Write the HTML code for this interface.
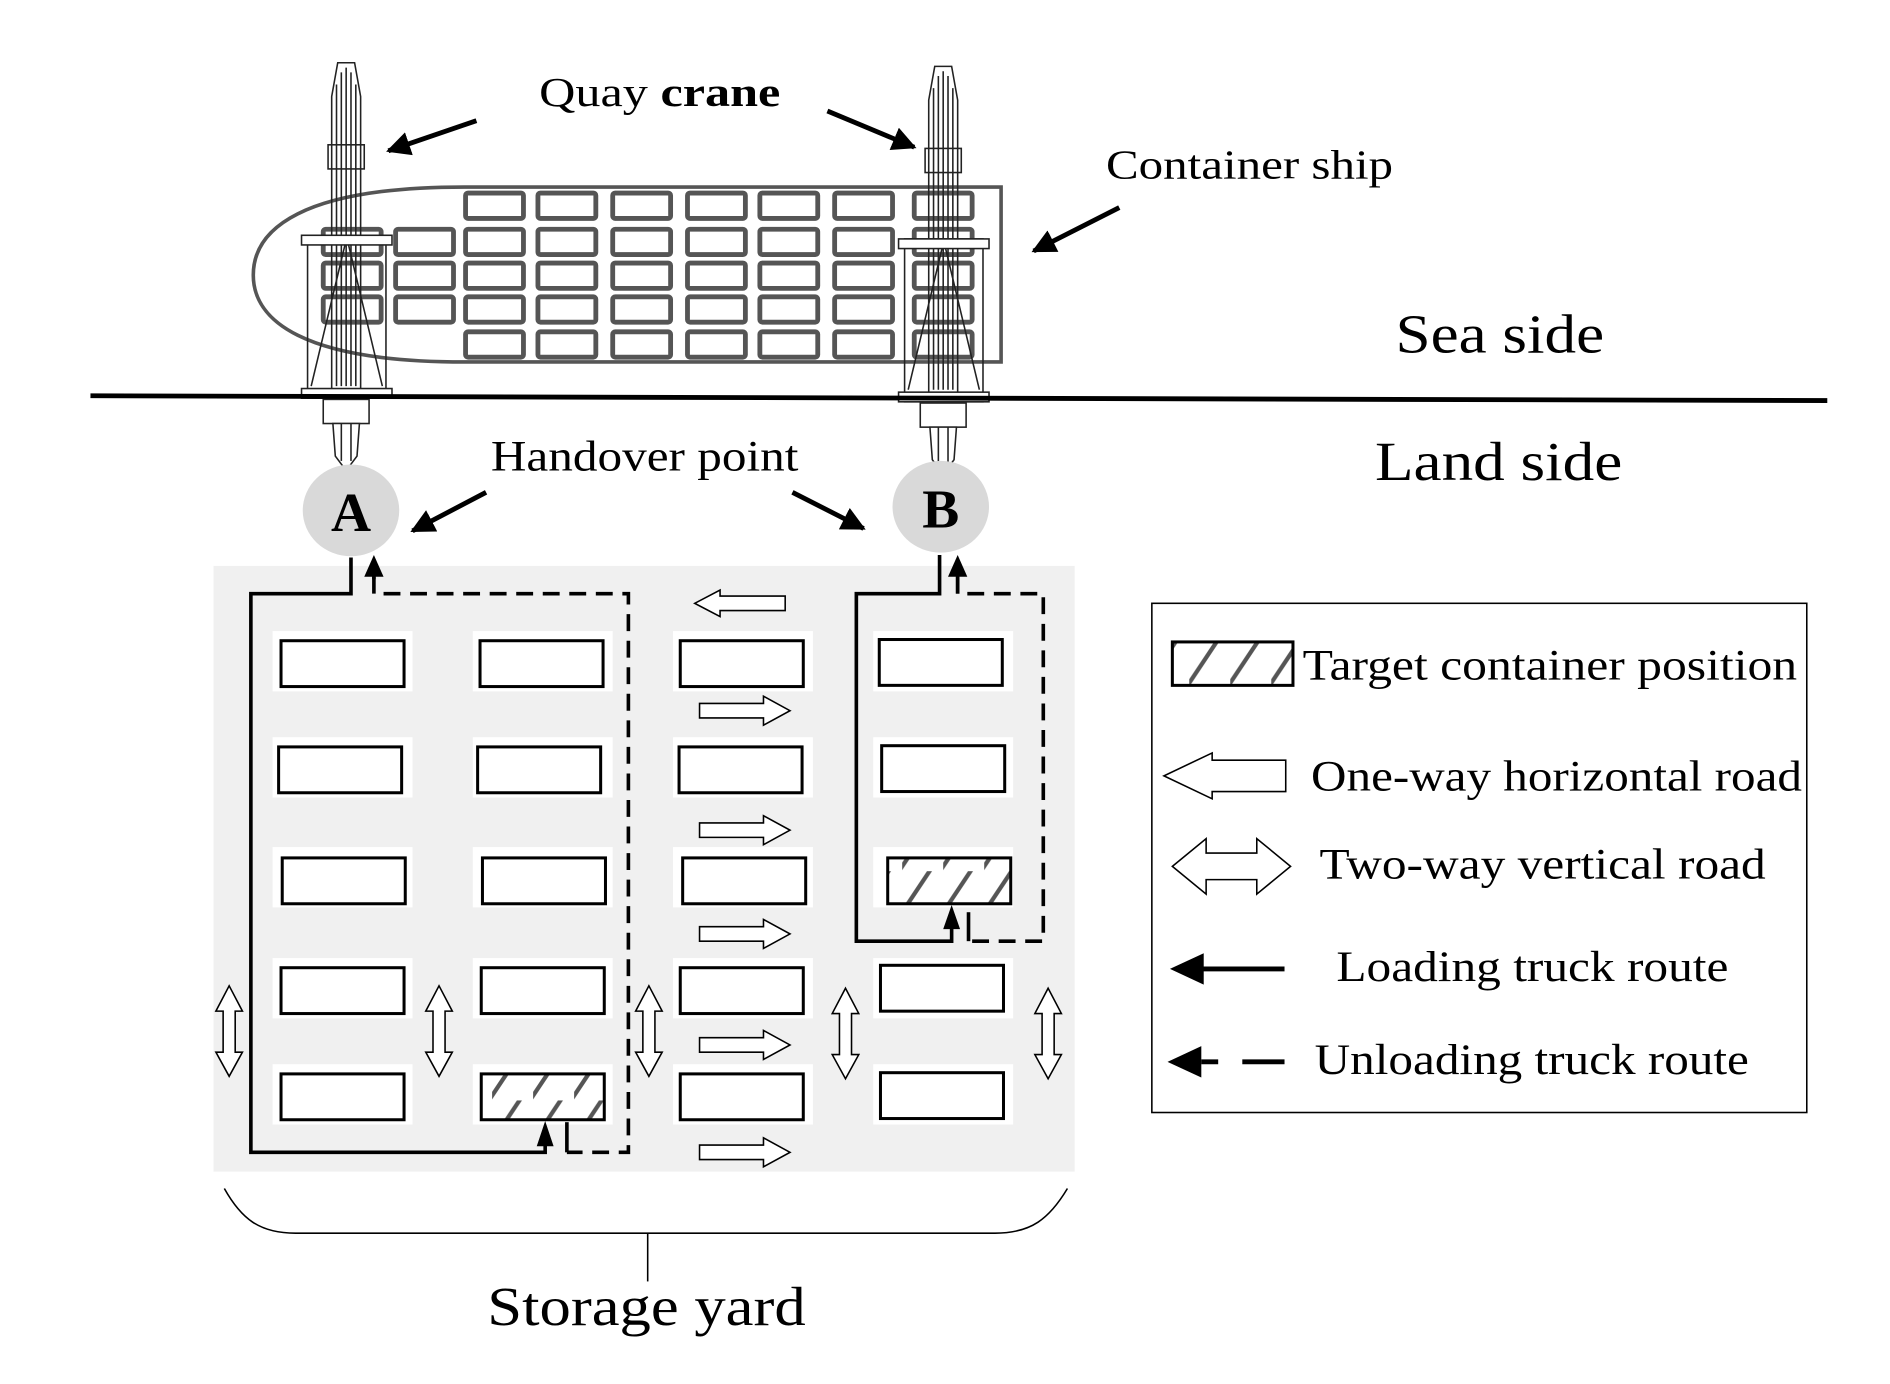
<!DOCTYPE html>
<html><head><meta charset="utf-8"><style>html,body{margin:0;padding:0;background:#fff}svg{display:block}</style></head>
<body>
<svg width="1890" height="1384" viewBox="0 0 1567 1147" preserveAspectRatio="none" xmlns="http://www.w3.org/2000/svg" font-family="'Liberation Serif', serif">
<defs>
<marker id="ah" viewBox="0 0 10 10" refX="9" refY="5" markerWidth="5" markerHeight="5" orient="auto"><path d="M0,0 L10,5 L0,10 z" fill="#000"/></marker>
<pattern id="hatch" width="34" height="38" patternUnits="userSpaceOnUse"><rect width="34" height="38" fill="#fff"/><path d="M-4,40 L24,-2" stroke="#555" stroke-width="3.5"/></pattern>
</defs>
<!-- ship -->
<path d="M385,155 L830,155 L830,300 L385,300 C250,300 210,265 210,228 C210,190 250,155 385,155 Z" fill="none" stroke="#555" stroke-width="3"/>
<g fill="none" stroke="#555" stroke-width="4">
<g id="row">
<rect x="386" y="160" width="48" height="21" rx="2"/><rect x="446" y="160" width="48" height="21" rx="2"/><rect x="508" y="160" width="48" height="21" rx="2"/><rect x="570" y="160" width="48" height="21" rx="2"/><rect x="630" y="160" width="48" height="21" rx="2"/><rect x="692" y="160" width="48" height="21" rx="2"/><rect x="758" y="160" width="48" height="21" rx="2"/>
</g>
<use href="#row" y="30"/><use href="#row" y="58"/><use href="#row" y="86"/><use href="#row" y="115"/>
<rect x="328" y="190" width="48" height="21" rx="2"/><rect x="328" y="218" width="48" height="21" rx="2"/><rect x="328" y="246" width="48" height="21" rx="2"/>
<rect x="268" y="190" width="48" height="21" rx="2"/><rect x="268" y="218" width="48" height="21" rx="2"/><rect x="268" y="246" width="48" height="21" rx="2"/>
</g>
<!-- cranes -->
<g id="crane" fill="#fff" stroke="#222" stroke-width="1.3">
<path d="M280,52 L294,52 L299,80 L299,330 L275,330 L275,80 Z" fill="none"/>
<line x1="279" y1="70" x2="279" y2="320"/><line x1="283" y1="60" x2="283" y2="320"/><line x1="287" y1="56" x2="287" y2="320"/><line x1="291" y1="60" x2="291" y2="320"/><line x1="295" y1="70" x2="295" y2="320"/>
<rect x="272" y="120" width="30" height="20" fill="none"/>
<rect x="255" y="195" width="65" height="135" fill="none"/>
<rect x="250" y="195" width="75" height="8" fill="#fff"/>
<line x1="258" y1="320" x2="286" y2="203"/><line x1="317" y1="320" x2="289" y2="203"/>
<rect x="250" y="322" width="75" height="8"/>
<rect x="268" y="331" width="38" height="20"/>
<path d="M276,351 L298,351 L296,378 L287,390 L278,378 Z"/>
<line x1="283" y1="351" x2="283" y2="382"/><line x1="291" y1="351" x2="291" y2="382"/>
</g>
<use href="#crane" x="495" y="3"/>
<!-- sea line -->
<path d="M75,328 L1515,332" stroke="#000" stroke-width="4"/>
<!-- texts -->
<text x="447" y="88" font-size="34" textLength="200" lengthAdjust="spacingAndGlyphs">Quay <tspan font-weight="bold">crane</tspan></text>
<text x="917" y="148" font-size="34" textLength="238" lengthAdjust="spacingAndGlyphs">Container ship</text>
<text x="1157" y="292" font-size="46" textLength="173" lengthAdjust="spacingAndGlyphs">Sea side</text>
<text x="1140" y="398" font-size="46" textLength="205" lengthAdjust="spacingAndGlyphs">Land side</text>
<text x="407" y="390" font-size="36" textLength="255" lengthAdjust="spacingAndGlyphs">Handover point</text>
<text x="404" y="1098" font-size="46" textLength="264" lengthAdjust="spacingAndGlyphs">Storage yard</text>
<!-- pointer arrows -->
<g stroke="#000" stroke-width="4" marker-end="url(#ah)">
<line x1="395" y1="100" x2="322" y2="125"/><line x1="686" y1="92" x2="758" y2="122"/>
<line x1="928" y1="172" x2="857" y2="208"/><line x1="403" y1="408" x2="342" y2="440"/><line x1="657" y1="408" x2="716" y2="438"/>
</g>
<!-- handover circles -->
<ellipse cx="291" cy="423" rx="40" ry="38" fill="#d9d9d9"/>
<ellipse cx="780" cy="420" rx="40" ry="38" fill="#d9d9d9"/>
<text x="291" y="440" font-size="46" font-weight="bold" text-anchor="middle">A</text>
<text x="780" y="437" font-size="46" font-weight="bold" text-anchor="middle">B</text>
<!-- yard -->
<rect x="177" y="469" width="714" height="502" fill="#f0f0f0"/>
<g fill="#fff">
<g id="bgc"><rect x="226" y="523" width="116" height="50"/><rect x="226" y="611" width="116" height="50"/><rect x="226" y="702" width="116" height="50"/><rect x="226" y="794" width="116" height="50"/><rect x="226" y="882" width="116" height="50"/></g>
<use href="#bgc" x="166"/><use href="#bgc" x="332"/><use href="#bgc" x="498"/>
</g>
<g fill="#fff" stroke="#000" stroke-width="2.5">
<rect x="233" y="531" width="102" height="38"/><rect x="398" y="531" width="102" height="38"/><rect x="564" y="531" width="102" height="38"/><rect x="729" y="530" width="102" height="38"/>
<rect x="231" y="619" width="102" height="38"/><rect x="396" y="619" width="102" height="38"/><rect x="563" y="619" width="102" height="38"/><rect x="731" y="618" width="102" height="38"/>
<rect x="234" y="711" width="102" height="38"/><rect x="400" y="711" width="102" height="38"/><rect x="566" y="711" width="102" height="38"/><rect x="736" y="711" width="102" height="38" fill="url(#hatch)"/>
<rect x="233" y="802" width="102" height="38"/><rect x="399" y="802" width="102" height="38"/><rect x="564" y="802" width="102" height="38"/><rect x="730" y="800" width="102" height="38"/>
<rect x="233" y="890" width="102" height="38"/><rect x="399" y="890" width="102" height="38" fill="url(#hatch)"/><rect x="564" y="890" width="102" height="38"/><rect x="730" y="889" width="102" height="38"/>
</g>
<!-- one-way arrows -->
<g fill="#fff" stroke="#000" stroke-width="1.3">
<path d="M651,494 L597,494 L597,489 L576,500 L597,511 L597,506 L651,506 Z"/>
<g id="ra"><path d="M580,583 L633,583 L633,577 L655,589 L633,601 L633,595 L580,595 Z"/></g>
<use href="#ra" y="99"/><use href="#ra" y="185"/><use href="#ra" y="277"/><use href="#ra" y="366"/>
<g id="va"><path d="M190,817 L201,838 L195,838 L195,872 L201,872 L190,892 L179,872 L185,872 L185,838 L179,838 Z"/></g>
<use href="#va" x="174"/><use href="#va" x="348"/><use href="#va" x="511" y="2"/><use href="#va" x="679" y="2"/>
</g>
<!-- routes -->
<g fill="none" stroke="#000" stroke-width="3">
<path d="M291,462 L291,492 L208,492 L208,955 L452,955 L452,938"/>
<path d="M779,460 L779,492 L710,492 L710,780 L789,780 L789,760"/>
</g>
<g fill="none" stroke="#000" stroke-width="3" stroke-dasharray="14,8">
<path d="M310,478 L310,492 L521,492 L521,955 L470,955"/>
<path d="M794,478 L794,492 L865,492 L865,780 L803,780"/>
</g>
<g stroke="#000" stroke-width="3"><line x1="470" y1="955" x2="470" y2="930"/><line x1="803" y1="780" x2="803" y2="756"/><line x1="310" y1="480" x2="310" y2="474"/><line x1="794" y1="492" x2="794" y2="474"/></g>
<g fill="#000">
<path d="M452,929 L445,950 L459,950 Z"/><path d="M789,750 L782,770 L796,770 Z"/>
<path d="M310,460 L302,478 L318,478 Z"/><path d="M794,460 L786,478 L802,478 Z"/>
</g>
<!-- brace -->
<path d="M186,985 C200,1010 215,1022 245,1022 L825,1022 C855,1022 870,1010 885,985" fill="none" stroke="#000" stroke-width="1.3"/>
<line x1="537" y1="1022" x2="537" y2="1062" stroke="#000" stroke-width="1.3"/>
<!-- legend -->
<rect x="955" y="500" width="543" height="422" fill="#fff" stroke="#000" stroke-width="1.3"/>
<rect x="972" y="532" width="100" height="36" fill="url(#hatch)" stroke="#000" stroke-width="2.5"/>
<text x="1080" y="563" font-size="36" textLength="410" lengthAdjust="spacingAndGlyphs">Target container position</text>
<path d="M1066,630 L1005,630 L1005,624 L965,643 L1005,662 L1005,656 L1066,656 Z" fill="#fff" stroke="#000" stroke-width="1.3"/>
<text x="1087" y="655" font-size="36" textLength="407" lengthAdjust="spacingAndGlyphs">One-way horizontal road</text>
<path d="M972,718 L1000,695 L1000,707 L1042,707 L1042,695 L1070,718 L1042,741 L1042,729 L1000,729 L1000,741 Z" fill="#fff" stroke="#000" stroke-width="1.3"/>
<text x="1094" y="728" font-size="36" textLength="370" lengthAdjust="spacingAndGlyphs">Two-way vertical road</text>
<line x1="990" y1="803" x2="1065" y2="803" stroke="#000" stroke-width="4"/>
<path d="M970,803 L998,790 L998,816 Z" fill="#000"/>
<text x="1108" y="813" font-size="36" textLength="325" lengthAdjust="spacingAndGlyphs">Loading truck route</text>
<path d="M968,880 L996,867 L996,893 Z" fill="#000"/>
<line x1="996" y1="880" x2="1010" y2="880" stroke="#000" stroke-width="4"/>
<line x1="1030" y1="880" x2="1065" y2="880" stroke="#000" stroke-width="4"/>
<text x="1090" y="890" font-size="36" textLength="360" lengthAdjust="spacingAndGlyphs">Unloading truck route</text>
</svg>
</body></html>
